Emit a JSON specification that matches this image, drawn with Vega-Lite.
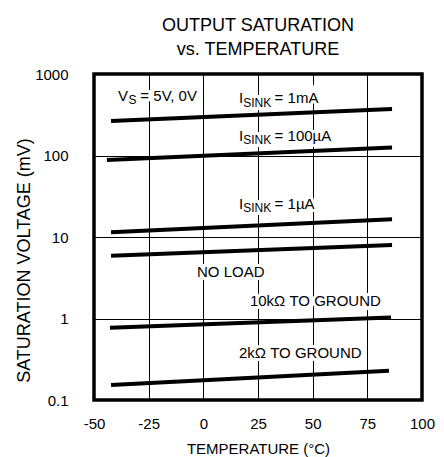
{
  "$schema": "https://vega.github.io/schema/vega-lite/v6.json",
  "width": 328,
  "height": 326,
  "autosize": {"type": "none"},
  "padding": {"left": 94, "top": 74, "right": 22, "bottom": 57},
  "background": "white",
  "title": {
    "text": ["OUTPUT SATURATION", "vs. TEMPERATURE"],
    "font": "Liberation Sans",
    "fontSize": 18,
    "fontWeight": "normal",
    "color": "black",
    "anchor": "middle",
    "lineHeight": 24,
    "baseline": "bottom",
    "offset": -10
  },
  "config": {
    "font": "Liberation Sans",
    "view": {"stroke": "black", "strokeWidth": 3.5}
  },
  "datasets": {
    "curves": [
      {"series": "1mA", "T": -42.2, "V": 265},
      {"series": "1mA", "T": 86.3, "V": 372},
      {"series": "100uA", "T": -44.1, "V": 88},
      {"series": "100uA", "T": 86.3, "V": 125},
      {"series": "1uA", "T": -42.2, "V": 11.4},
      {"series": "1uA", "T": 86.3, "V": 16.5},
      {"series": "noload", "T": -42.2, "V": 5.9},
      {"series": "noload", "T": 86.3, "V": 8.0},
      {"series": "10k", "T": -42.7, "V": 0.77},
      {"series": "10k", "T": 85.8, "V": 1.03},
      {"series": "2k", "T": -42.2, "V": 0.153},
      {"series": "2k", "T": 84.9, "V": 0.229}
    ],
    "labels": [
      {"t": "V", "kind": "main", "T": -39.0, "V": 467},
      {"t": "S", "kind": "sub", "T": -34.2, "V": 429},
      {"t": "= 5V, 0V", "kind": "main", "T": -28.8, "V": 467},
      {"t": "I", "kind": "main", "T": 16.3, "V": 435},
      {"t": "SINK", "kind": "sub", "T": 18.2, "V": 399},
      {"t": "= 1mA", "kind": "main", "T": 32.6, "V": 435},
      {"t": "I", "kind": "main", "T": 16.3, "V": 148.6},
      {"t": "SINK", "kind": "sub", "T": 18.2, "V": 136.5},
      {"t": "= 100µA", "kind": "main", "T": 32.6, "V": 148.6},
      {"t": "I", "kind": "main", "T": 16.3, "V": 22.1},
      {"t": "SINK", "kind": "sub", "T": 18.2, "V": 20.3},
      {"t": "= 1µA", "kind": "main", "T": 32.6, "V": 22.1},
      {"t": "NO LOAD", "kind": "main", "T": -2.9, "V": 3.23},
      {"t": "10kΩ TO GROUND", "kind": "main", "T": 21.3, "V": 1.42},
      {"t": "2kΩ TO GROUND", "kind": "main", "T": 16.3, "V": 0.332}
    ]
  },
  "encoding": {
    "x": {
      "field": "T",
      "type": "quantitative",
      "scale": {"domain": [-50, 100], "nice": false, "zero": false},
      "axis": {
        "values": [-50, -25, 0, 25, 50, 75, 100],
        "labelExpr": "'' + datum.value",
        "title": "TEMPERATURE (°C)",
        "grid": true,
        "gridColor": "black",
        "gridOpacity": 1,
        "gridWidth": 1,
        "domain": false,
        "ticks": false,
        "tickSize": 0,
        "labelPadding": 28,
        "labelBaseline": "alphabetic",
        "labelFontSize": 15,
        "labelColor": "black",
        "labelFlush": false,
        "labelOverlap": false,
        "titleFontSize": 15,
        "titleFontWeight": "normal",
        "titleColor": "black",
        "titleBaseline": "alphabetic",
        "titleY": 53
      }
    },
    "y": {
      "field": "V",
      "type": "quantitative",
      "scale": {"type": "log", "domain": [0.1, 1000], "nice": false},
      "axis": {
        "values": [0.1, 1, 10, 100, 1000],
        "labelExpr": "'' + datum.value",
        "title": "SATURATION VOLTAGE (mV)",
        "grid": true,
        "gridColor": "black",
        "gridOpacity": 1,
        "gridWidth": 1,
        "domain": false,
        "ticks": false,
        "tickSize": 0,
        "labelPadding": 26,
        "labelFontSize": 15,
        "labelColor": "black",
        "labelFlush": false,
        "labelOverlap": false,
        "titleFontSize": 18,
        "titleFontWeight": "normal",
        "titleColor": "black",
        "titleBaseline": "alphabetic",
        "titleX": -65,
        "titleY": 186
      }
    }
  },
  "layer": [
    {
      "data": {"name": "labels"},
      "mark": {"type": "text", "align": "left", "baseline": "alphabetic", "fill": "white", "stroke": "white", "strokeWidth": 6},
      "encoding": {
        "text": {"field": "t"},
        "size": {"field": "kind", "type": "nominal", "scale": {"domain": ["main", "sub"], "range": [15, 12]}, "legend": null}
      }
    },
    {
      "data": {"name": "labels"},
      "mark": {"type": "text", "align": "left", "baseline": "alphabetic", "fill": "black"},
      "encoding": {
        "text": {"field": "t"},
        "size": {"field": "kind", "type": "nominal", "scale": {"domain": ["main", "sub"], "range": [15, 12]}, "legend": null}
      }
    },
    {
      "data": {"name": "curves"},
      "mark": {"type": "line", "color": "black", "strokeWidth": 4, "strokeCap": "butt"},
      "encoding": {
        "detail": {"field": "series", "type": "nominal"}
      }
    }
  ]
}
